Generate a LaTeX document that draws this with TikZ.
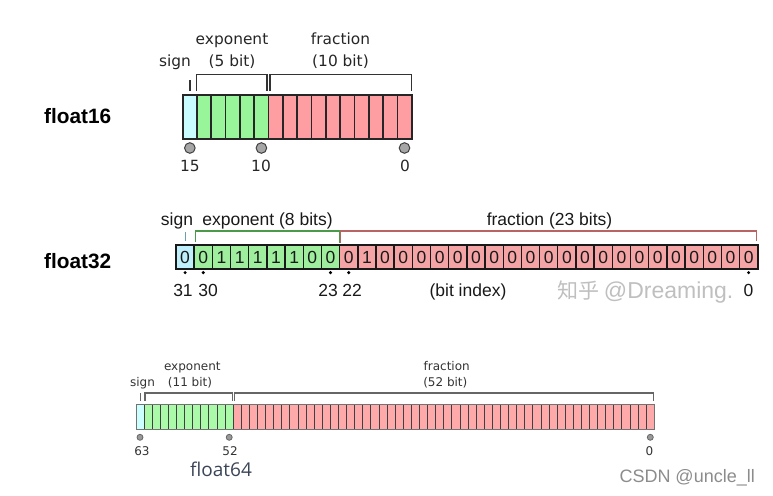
\documentclass[tikz,border=0pt]{standalone}
\usepackage{fontspec}
\setmainfont{DejaVu Sans}
\newfontfamily\arialf{Liberation Sans}
\newfontfamily\opensf{Open Sans}
\newfontfamily\cjkf{Noto Sans CJK SC}
\definecolor{sgnA}{HTML}{C8FCFF}
\definecolor{expA}{HTML}{99F599}
\definecolor{fraA}{HTML}{FF9EA2}
\definecolor{sgnB}{HTML}{BFEFFA}
\definecolor{expB}{HTML}{9EEE9E}
\definecolor{fraB}{HTML}{F4A4A4}
\definecolor{sgnC}{HTML}{CCFFFF}
\definecolor{expC}{HTML}{AAFAAA}
\definecolor{fraC}{HTML}{FFAAAA}
\definecolor{brB1}{HTML}{6A9FB0}
\definecolor{brB2}{HTML}{4A9A4A}
\definecolor{brB3}{HTML}{B86464}
\begin{document}
\begin{tikzpicture}[x=1pt,y=-1pt,
  txtA/.style={inner sep=0pt,anchor=base,font=\fontsize{15.4}{18}\selectfont,text=black!85},
  txtB/.style={inner sep=0pt,anchor=base,font=\arialf\fontsize{17.5}{20}\selectfont,text=black!90},
  txtC/.style={inner sep=0pt,anchor=base,font=\fontsize{12}{14}\selectfont,text=black!80},
  title/.style={inner sep=0pt,anchor=base west,font=\arialf\bfseries\fontsize{20.8}{24}\selectfont},
  brA/.style={draw=black!80,line width=1.4pt},
  brC/.style={draw=black!60,line width=1.1pt},
  circA/.style={draw=black!75,fill=black!35,line width=1pt},
  circC/.style={draw=black!60,fill=black!40,line width=0.8pt},
  wm/.style={inner sep=0pt,anchor=base west,text=black!25}
]
\useasboundingbox (0,0) rectangle (773,495);

% ---------------- float16 ----------------
\node[title] (t16) at (44,123.3) {float16};
\fill[sgnA] (182.7,95) rectangle (196.99,139.3);
\foreach \i in {1,...,5} \fill[expA] ({182.7+\i*14.31},95) rectangle ++(14.31,44.3);
\foreach \i in {6,...,15} \fill[fraA] ({182.7+\i*14.31},95) rectangle ++(14.31,44.3);
\foreach \i in {1,...,15} \draw[line width=1.7pt,black!85] ({182.7+\i*14.31},95) -- ++(0,44.3);
\draw[line width=2.1pt,black!85] (182.7,95) rectangle (411.7,139.3);
\draw[brA] (190,80) -- (190,91);
\draw[brA] (196.7,91) -- (196.7,74.3) -- (267,74.3) -- (267,91);
\draw[brA] (270,91) -- (270,74.3) -- (411.2,74.3) -- (411.2,91);
\node[txtA] (sg16) at (175,66.7) {sign};
\node[txtA] (ex16) at (232,45) {exponent};
\node[txtA] (eb16) at (232,66.7) {(5 bit)};
\node[txtA] (fr16) at (340.5,45) {fraction};
\node[txtA] (fb16) at (340.5,66.7) {(10 bit)};
\draw[circA] (189.85,148) circle (5.3);
\draw[circA] (261.4,148) circle (5.3);
\draw[circA] (404.5,148) circle (5.3);
\node[txtA] (l15) at (190,171.7) {15};
\node[txtA] (l10) at (261,171.7) {10};
\node[txtA] (l0a) at (405,171.7) {0};

% ---------------- float32 ----------------
\node[title] (t32) at (44,268.3) {float32};
\fill[sgnB] (176,245) rectangle ++(18.18,24.3);
\foreach \i in {1,...,8} \fill[expB] ({176+\i*18.18},245) rectangle ++(18.18,24.3);
\foreach \i in {9,...,31} \fill[fraB] ({176+\i*18.18},245) rectangle ++(18.18,24.3);
\foreach \i in {1,...,31} \draw[line width=1.4pt,black!90] ({176+\i*18.18},245) -- ++(0,24.3);
\draw[line width=2.2pt,black!90] (176,245) rectangle (757.8,269.3);
\foreach \b [count=\i from 0] in {0,0,1,1,1,1,1,0,0,0,1,0,0,0,0,0,0,0,0,0,0,0,0,0,0,0,0,0,0,0,0,0}
  \node[txtB] at ({176+(\i+0.5)*18.18},263.5) {\b};
\draw[brB1,line width=1.1pt] (185.1,232) -- (185.1,241);
\draw[brB2,line width=1.1pt] (195.7,242) -- (195.7,231) -- (339.6,231) -- (339.6,243);
\draw[brB3,line width=1.1pt] (340.8,243) -- (340.8,231) -- (756.8,231) -- (756.8,241);
\node[txtB] (sg32) at (177,225) {sign};
\node[txtB] (ex32) at (267.5,225) {exponent (8 bits)};
\node[txtB] (fr32) at (549.5,225) {fraction (23 bits)};
\foreach \x in {185.1,203.3,330.5,348.7,748.6} \fill[black] (\x,272.6) circle (1.7);
\node[txtB] (l31) at (183,296.7) {31};
\node[txtB] (l30) at (208,296.7) {30};
\node[txtB] (l23) at (328,296.7) {23};
\node[txtB] (l22) at (352,296.7) {22};
\node[txtB] (bix) at (468,296.7) {(bit index)};
\node[wm] (wm1) at (557,298) {\cjkf\fontsize{21}{24}\selectfont 知乎 \arialf\fontsize{23}{26}\selectfont @Dreaming.};
\node[txtB] (l0b) at (748.6,296.7) {0};

% ---------------- float64 ----------------
\fill[sgnC] (136,404) rectangle ++(8.098,25.5);
\foreach \i in {1,...,11} \fill[expC] ({136+\i*8.098},404) rectangle ++(8.098,25.5);
\foreach \i in {12,...,63} \fill[fraC] ({136+\i*8.098},404) rectangle ++(8.098,25.5);
\foreach \i in {1,...,63} \draw[line width=0.8pt,black!75] ({136+\i*8.098},404) -- ++(0,25.5);
\draw[line width=1pt,black!55] (136,404) rectangle (654.3,429.5);
\draw[brC] (140.5,393) -- (140.5,401);
\draw[brC] (145,401) -- (145,393) -- (232.5,393) -- (232.5,401);
\draw[brC] (234.5,401) -- (234.5,393) -- (653.8,393) -- (653.8,401);
\node[txtC] (sg64) at (142.5,386.7) {sign};
\node[txtC] (ex64) at (192.3,370.7) {exponent};
\node[txtC] (eb64) at (190,386.7) {(11 bit)};
\node[txtC] (fr64) at (446.7,370.7) {fraction};
\node[txtC] (fb64) at (445.3,386.7) {(52 bit)};
\draw[circC] (140,437.3) circle (3);
\draw[circC] (229.2,437.3) circle (3);
\draw[circC] (650.3,437.3) circle (3);
\node[txtC] (l63) at (142,455.5) {63};
\node[txtC] (l52) at (230,455.5) {52};
\node[txtC] (l0c) at (649.5,455.5) {0};
\node[inner sep=0pt,anchor=base,font=\opensf\fontsize{19}{22}\selectfont,text={rgb,255:red,58;green,69;blue,86}] (t64) at (221,476) {float64};
\node[wm,text=black!45,font=\arialf\fontsize{18}{21}\selectfont] (wm2) at (619.3,482) {CSDN @uncle\_ll};
\end{tikzpicture}
\end{document}
